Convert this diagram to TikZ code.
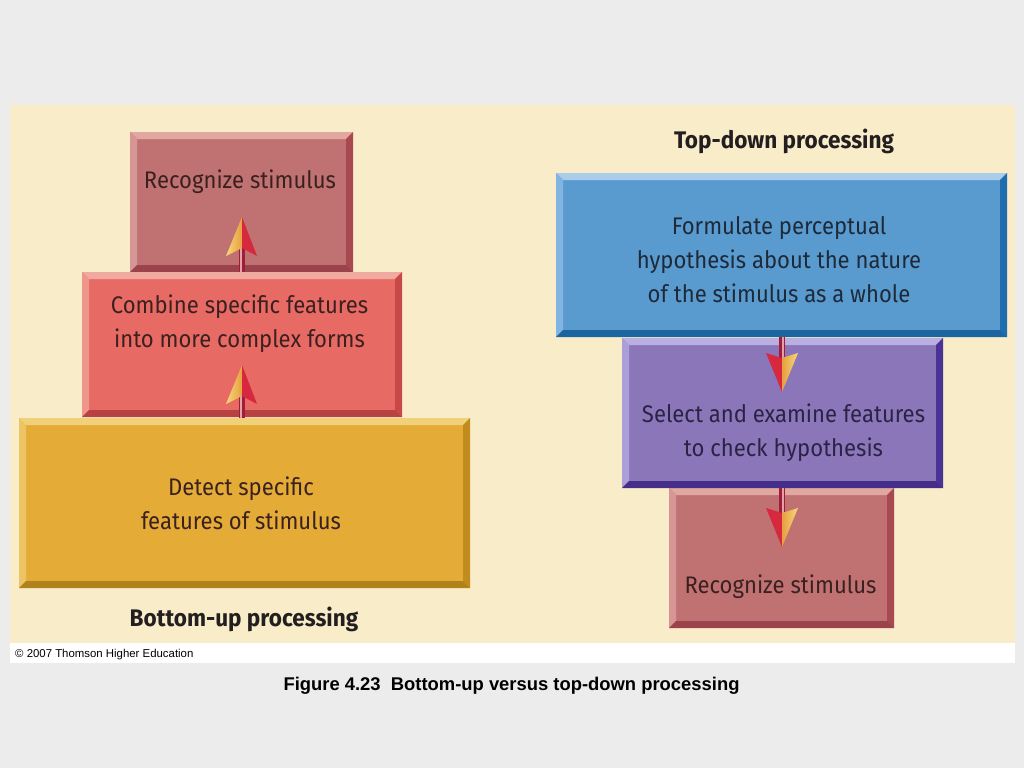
\documentclass[tikz,border=0pt]{standalone}
\usepackage{fontspec}
\setmainfont{Liberation Sans}
\newfontfamily\boxfont[FakeStretch=0.92]{Fira Sans}
\newfontfamily\headfont[FakeStretch=0.94]{Fira Sans}
\definecolor{bggray}{HTML}{ECECEC}
\definecolor{cream}{HTML}{F8ECC9}
\definecolor{recface}{HTML}{C07272}\definecolor{reclight}{HTML}{E0A8A0}\definecolor{recside}{HTML}{D79696}\definecolor{recdark}{HTML}{A84850}
\definecolor{comface}{HTML}{E86A64}\definecolor{comlight}{HTML}{F0AAA0}\definecolor{comside}{HTML}{EE968C}\definecolor{comdark}{HTML}{C84848}
\definecolor{detface}{HTML}{E4AC36}\definecolor{detlight}{HTML}{F0D078}\definecolor{detside}{HTML}{ECC464}\definecolor{detdark}{HTML}{C08C1E}
\definecolor{bluface}{HTML}{5A9BCF}\definecolor{blulight}{HTML}{AACDEB}\definecolor{bluside}{HTML}{82B4E1}\definecolor{bludark}{HTML}{1E6EAF}
\definecolor{purface}{HTML}{8C76BA}\definecolor{purlight}{HTML}{B9AFE1}\definecolor{purside}{HTML}{AAA0D7}\definecolor{purdark}{HTML}{4B3296}
\definecolor{txtred}{HTML}{3B2020}\definecolor{txtblue}{HTML}{1E2A3A}\definecolor{txtpur}{HTML}{2B2345}
\definecolor{headtxt}{HTML}{231F20}
\definecolor{shaftdark}{HTML}{9E1F3A}\definecolor{shaftlight}{HTML}{E8A0A8}
\definecolor{headred}{HTML}{D6283E}\definecolor{headyel}{HTML}{F7D77A}\definecolor{headorg}{HTML}{E6A040}
\tikzset{
  panel/.style={inner sep=0pt, outer sep=0pt, draw=none},
  btext/.style={font=\boxfont\fontsize{24}{34}\selectfont, align=center, inner sep=0pt},
  headlabel/.style={font=\headfont\bfseries\fontsize{24}{28}\selectfont, text=headtxt, inner sep=0pt, anchor=base},
  shaft/.style={line width=6.5pt, draw=shaftdark},
  shaftstripe/.style={line width=1.6pt, draw=shaftlight},
}
% bevels: node name, light(top), side-light(left), dark(right/bottom)
\newcommand\bevels[4]{%
  \fill[#2] (#1.north west) -- (#1.north east) -- ([xshift=-7pt,yshift=-7pt]#1.north east) -- ([xshift=7pt,yshift=-7pt]#1.north west) -- cycle;
  \fill[#3] (#1.north west) -- ([xshift=7pt,yshift=-7pt]#1.north west) -- ([xshift=7pt,yshift=7pt]#1.south west) -- (#1.south west) -- cycle;
  \fill[#4] (#1.north east) -- (#1.south east) -- ([xshift=-7pt,yshift=7pt]#1.south east) -- ([xshift=-7pt,yshift=-7pt]#1.north east) -- cycle;
  \fill[#4!92!black] (#1.south west) -- (#1.south east) -- ([xshift=-7pt,yshift=7pt]#1.south east) -- ([xshift=7pt,yshift=7pt]#1.south west) -- cycle;
}
% arrow heads (x right, y down)
\newcommand\uphead[1]{%
  \shade[left color=headyel, right color=headorg] (#1) -- ++(-16,39) -- ++(16,-8) -- cycle;
  \fill[headred] (#1) -- ++(15,39) -- ++(-15,-8) -- cycle;
}
\newcommand\downhead[1]{%
  \fill[headred] (#1) -- ++(-16,-39) -- ++(16,5) -- cycle;
  \shade[left color=headorg, right color=headyel] (#1) -- ++(16,-39) -- ++(-16,5) -- cycle;
}
\begin{document}
\begin{tikzpicture}[x=1pt,y=-1pt]
\useasboundingbox (0,0) rectangle (1024,768);
\fill[bggray] (0,0) rectangle (1024,768);
\fill[cream] (10,105) rectangle (1015,643);
\fill[white] (10,643) rectangle (1015,663);

% ---- bottom-up (left)
\node[panel, fill=recface, minimum width=223pt, minimum height=140pt] (recL) at (241.5,202) {};
\bevels{recL}{reclight}{recside}{recdark}
\node[panel, fill=comface, minimum width=320pt, minimum height=145pt] (comb) at (242,344.5) {};
\bevels{comb}{comlight}{comside}{comdark}
\node[panel, fill=detface, minimum width=451pt, minimum height=170pt] (det) at (244.5,503) {};
\bevels{det}{detlight}{detside}{detdark}

% ---- top-down (right)
\node[panel, fill=recface, minimum width=225pt, minimum height=140pt] (recR) at (781.5,558) {};
\bevels{recR}{reclight}{recside}{recdark}
\node[panel, fill=purface, minimum width=321pt, minimum height=150pt] (sel) at (782.5,413) {};
\bevels{sel}{purlight}{purside}{purdark}
\node[panel, fill=bluface, minimum width=451pt, minimum height=164pt] (form) at (781.5,255) {};
\bevels{form}{blulight}{bluside}{bludark}

% ---- arrows
\coordinate (t1) at (242,217);
\coordinate (t2) at (242,365);
\coordinate (t3) at (782,392);
\coordinate (t4) at (782,547);
\draw[shaft] (t1 |- comb.north) -- ([yshift=-28pt]t1);
\draw[shaftstripe] ([xshift=-0.8pt]t1 |- comb.north) -- ([xshift=-0.8pt,yshift=-28pt]t1);
\uphead{t1}
\draw[shaft] (t2 |- det.north) -- ([yshift=-28pt]t2);
\draw[shaftstripe] ([xshift=-0.8pt]t2 |- det.north) -- ([xshift=-0.8pt,yshift=-28pt]t2);
\uphead{t2}
\draw[shaft] (t3 |- form.south) -- ([yshift=28pt]t3);
\draw[shaftstripe] ([xshift=0.8pt]t3 |- form.south) -- ([xshift=0.8pt,yshift=28pt]t3);
\downhead{t3}
\draw[shaft] (t4 |- sel.south) -- ([yshift=28pt]t4);
\draw[shaftstripe] ([xshift=0.8pt]t4 |- sel.south) -- ([xshift=0.8pt,yshift=28pt]t4);
\downhead{t4}

% ---- texts
\node[btext, text=txtred, anchor=base] (trecL) at (240,188) {Recognize stimulus};
\node[btext, text=txtred] (tcomb) at (239.5,324) {Combine specific features\\into more complex forms};
\node[btext, text=txtred] (tdet) at (241,503) {Detect specific\\features of stimulus};
\node[btext, text=txtblue] (tform) at (779,260) {Formulate perceptual\\hypothesis about the nature\\of the stimulus as a whole};
\node[btext, text=txtpur] (tsel) at (783.5,433) {Select and examine features\\to check hypothesis};
\node[btext, text=txtred, anchor=base] (trecR) at (780.5,593) {Recognize stimulus};

\node[headlabel] (hbu) at (244,626) {Bottom-up processing};
\node[headlabel] (htd) at (784,148) {Top-down processing};

\node[font=\fontsize{11.4}{13}\selectfont, anchor=base west, inner sep=0pt] (copy) at (15,657) {© 2007 Thomson Higher Education};
\node[font=\bfseries\fontsize{18.4}{20}\selectfont, anchor=base, inner sep=0pt] (cap) at (511.5,690) {Figure 4.23\ \ Bottom-up versus top-down processing};
\end{tikzpicture}
\end{document}
